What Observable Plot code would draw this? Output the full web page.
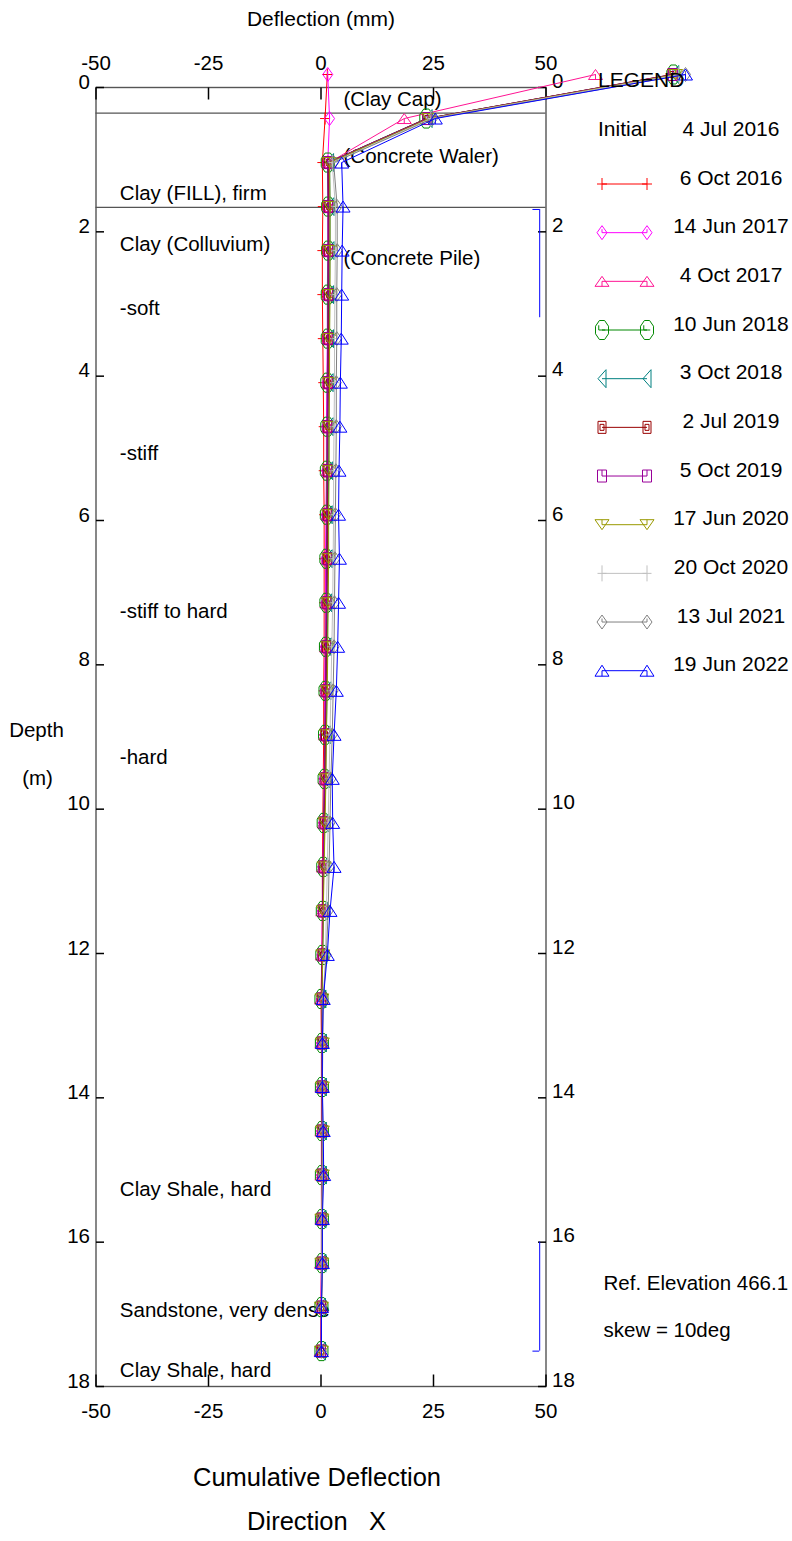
<!DOCTYPE html>
<html><head><meta charset="utf-8">
<script src="https://cdn.jsdelivr.net/npm/d3@7"></script>
<script src="https://cdn.jsdelivr.net/npm/@observablehq/plot@0.6"></script>
<style>
html,body{margin:0;padding:0;background:#fff;}
#chart{position:relative;width:792px;height:1541px;}
svg{display:block;overflow:visible}
</style>
</head><body><div id="chart"></div>
<script>
// ---------- data ----------
const depths = [-0.18, 0.43, 1.04, 1.65, 2.26, 2.87, 3.48, 4.09, 4.70, 5.31,
  5.92, 6.53, 7.14, 7.75, 8.36, 8.97, 9.58, 10.19, 10.80, 11.41,
  12.02, 12.63, 13.24, 13.85, 14.46, 15.07, 15.68, 16.29, 16.90, 17.51];

const seriesNames = ["6 Oct 2016", "14 Jun 2017", "4 Oct 2017", "10 Jun 2018", "3 Oct 2018",
  "2 Jul 2019", "5 Oct 2019", "17 Jun 2020", "20 Oct 2020", "13 Jul 2021", "19 Jun 2022"];
const seriesColors = ["#ff0000", "#ff00ff", "#ff1493", "#008800", "#008080",
  "#990000", "#990099", "#999900", "#c0c0c0", "#808080", "#0000ff"];
const initialName = "4 Jul 2016";

const d6Oct2016 = [1.4, 0.9, 0.3, 0.4, 0.3, 0.3, 0.4, 0.5, 0.6, 0.6, 0.7, 0.7, 0.7, 0.7, 0.6, 0.6, 0.5, 0.4, 0.3, 0.3, 0.2, 0.0, 0.1, 0.1, 0.1, 0.1, 0.1, 0.1, 0.0, 0.0];
const d14Jun2017 = [1.5, 1.9, 1.5, 1.5, 1.5, 1.4, 1.4, 1.3, 1.2, 1.2, 1.1, 1.0, 1.0, 0.9, 0.8, 0.8, 0.7, 0.6, 0.4, 0.3, 0.2, 0.1, 0.1, 0.1, 0.1, 0.1, 0.1, 0.1, 0.0, 0.0];
const d4Oct2017 = [61.0, 18.5, 1.8, 1.8, 1.8, 1.7, 1.7, 1.6, 1.6, 1.5, 1.5, 1.4, 1.3, 1.2, 1.1, 1.0, 0.9, 0.7, 0.5, 0.4, 0.3, 0.1, 0.2, 0.2, 0.2, 0.2, 0.2, 0.1, 0.1, 0.0];
const d10Jun2018 = [78.3, 23.4, 1.5, 1.6, 1.6, 1.5, 1.5, 1.4, 1.4, 1.3, 1.3, 1.2, 1.2, 1.1, 1.0, 0.9, 0.8, 0.6, 0.5, 0.4, 0.3, 0.1, 0.2, 0.2, 0.2, 0.2, 0.2, 0.2, 0.1, 0.1];
const d3Oct2018 = [78.6, 23.8, 1.9, 2.0, 2.0, 1.9, 1.9, 1.8, 1.8, 1.7, 1.6, 1.6, 1.5, 1.4, 1.3, 1.2, 1.0, 0.8, 0.6, 0.5, 0.4, 0.2, 0.3, 0.3, 0.3, 0.3, 0.2, 0.2, 0.1, 0.1];
const d2Jul2019 = [78.0, 23.5, 1.6, 1.7, 1.7, 1.7, 1.6, 1.6, 1.5, 1.5, 1.4, 1.4, 1.3, 1.2, 1.1, 1.0, 0.9, 0.7, 0.5, 0.4, 0.3, 0.1, 0.2, 0.2, 0.2, 0.2, 0.2, 0.2, 0.1, 0.1];
const d5Oct2019 = [78.2, 23.6, 1.5, 1.6, 1.6, 1.6, 1.5, 1.5, 1.4, 1.4, 1.3, 1.3, 1.2, 1.1, 1.0, 0.9, 0.8, 0.6, 0.5, 0.4, 0.3, 0.1, 0.2, 0.2, 0.2, 0.2, 0.1, 0.1, 0.1, 0.0];
const d17Jun2020 = [78.8, 24.0, 1.9, 2.0, 2.0, 2.0, 1.9, 1.9, 1.8, 1.8, 1.7, 1.7, 1.6, 1.5, 1.4, 1.2, 1.1, 0.9, 0.7, 0.5, 0.4, 0.2, 0.3, 0.3, 0.3, 0.3, 0.2, 0.2, 0.1, 0.1];
const d20Oct2020 = [79.5, 24.4, 2.5, 3.2, 3.2, 3.1, 3.0, 3.0, 2.9, 2.8, 2.8, 2.7, 2.6, 2.4, 2.2, 2.0, 1.8, 1.6, 1.4, 1.2, 1.0, 0.5, 0.3, 0.3, 0.3, 0.3, 0.2, 0.2, 0.1, 0.1];
const d13Jul2021 = [81.0, 24.8, 2.8, 3.6, 3.6, 3.5, 3.5, 3.4, 3.4, 3.3, 3.2, 3.1, 3.0, 2.9, 2.7, 2.5, 2.2, 2.0, 1.8, 1.6, 1.2, 0.5, 0.4, 0.3, 0.4, 0.4, 0.3, 0.3, 0.1, 0.1];
const d19Jun2022 = [81.0, 25.4, 4.6, 4.9, 4.7, 4.6, 4.5, 4.3, 4.2, 4.0, 3.9, 4.1, 3.9, 3.7, 3.4, 2.9, 2.5, 2.6, 2.9, 2.0, 1.4, 0.5, 0.3, 0.3, 0.5, 0.6, 0.3, 0.3, 0.1, 0.1];
const seriesValues = [d6Oct2016, d14Jun2017, d4Oct2017, d10Jun2018, d3Oct2018, d2Jul2019,
  d5Oct2019, d17Jun2020, d20Oct2020, d13Jul2021, d19Jun2022];

const xTickValues = [-50, -25, 0, 25, 50];
const yTickValues = [0, 2, 4, 6, 8, 10, 12, 14, 16, 18];

const layerBoundaries = [0.355, 1.66];
const annotationTexts = ["(Clay Cap)", "(Concrete Waler)", "(Concrete Pile)", "Clay (FILL), firm",
  "Clay (Colluvium)", "-soft", "-stiff", "-stiff to hard", "-hard", "Clay Shale, hard",
  "Sandstone, very dense", "Clay Shale, hard"];
const annotationDepths = [0.17, 0.96, 2.37, 1.47, 2.17, 3.06, 5.07, 7.26, 9.28, 15.27, 16.95, 17.78];
const annotationDefl = [5, 5, 5, -44.7, -44.7, -44.7, -44.7, -44.7, -44.7, -44.7, -44.7, -44.7];

const bracketTop = [1.69, 16.0];
const bracketBottom = [3.19, 17.51];
const bracketTickDepths = [1.69, 17.51];
const bracketDefl = 48.6;
const bracketTickDefl = 47.1;

// ---------- symbols ----------
const sym = fn => ({draw(c) { fn(c); }});
const plusSym = (w, h) => sym(c => { c.moveTo(-w/2, 0); c.lineTo(w/2, 0); c.moveTo(0, -h/2); c.lineTo(0, h/2); });
const diamondSym = (w, h) => sym(c => { c.moveTo(0, -h/2); c.lineTo(w/2, 0); c.lineTo(0, h/2); c.lineTo(-w/2, 0); c.closePath(); c.moveTo(0, 0); c.lineTo(0, -h/4); });
const triUpSym = (w, h) => sym(c => { c.moveTo(0, -h/2); c.lineTo(w/2, h/2); c.lineTo(-w/2, h/2); c.closePath(); c.moveTo(0, 0); c.lineTo(0, h/2); });
const triDownSym = (w, h) => sym(c => { c.moveTo(-w/2, -h/2); c.lineTo(w/2, -h/2); c.lineTo(0, h/2); c.closePath(); c.moveTo(0, -h/2); c.lineTo(0, 0); });
const triLeftSym = (w, h) => sym(c => { c.moveTo(-w/2, 0); c.lineTo(w/2, -h/2); c.lineTo(w/2, h/2); c.closePath(); });
const octSym = (w, h) => sym(c => {
  const cx = w * 0.3, cy = h * 0.3;
  c.moveTo(-w/2 + cx, -h/2); c.lineTo(w/2 - cx, -h/2); c.lineTo(w/2, -h/2 + cy); c.lineTo(w/2, h/2 - cy);
  c.lineTo(w/2 - cx, h/2); c.lineTo(-w/2 + cx, h/2); c.lineTo(-w/2, h/2 - cy); c.lineTo(-w/2, -h/2 + cy); c.closePath();
  c.moveTo(-w/4, -h/4); c.lineTo(-w/4, 0); c.lineTo(w/4, 0);
});
const squareSym = (w, h, inner) => sym(c => {
  c.rect(-w/2, -h/2, w, h);
  if (inner) c.rect(-w/4, -h/4, w/2, h/2); else { c.moveTo(0, -h/2); c.lineTo(0, 0); }
});
const seriesSymbols = [plusSym(10, 12), diamondSym(10, 14), triUpSym(14, 10), octSym(13, 19), triLeftSym(8, 18),
  squareSym(8, 12, true), squareSym(9, 12, false), triDownSym(14, 10), plusSym(9, 16), diamondSym(10, 14), triUpSym(14, 11)];

const tickDown = sym(c => { c.moveTo(0, 0); c.lineTo(0, 12); });
const tickUp = sym(c => { c.moveTo(0, 0); c.lineTo(0, -12); });
const tickRight = sym(c => { c.moveTo(0, 0); c.lineTo(8, 0); });
const tickLeft = sym(c => { c.moveTo(0, 0); c.lineTo(-8, 0); });

// ---------- marks ----------
const FONT = "Liberation Sans, Arial, Helvetica, sans-serif";
const FS = 20.5;
const annotations = annotationTexts.map((t, i) => ({text: t, depth: annotationDepths[i], defl: annotationDefl[i]}));
const brackets = bracketTop.map((t, i) => ({top: t, bottom: bracketBottom[i]}));
const T = {lineAnchor: "middle", fill: "#000", fontSize: FS};

const seriesMarks = [];
seriesNames.forEach((name, k) => {
  const rows = depths.map((d, i) => ({depth: d, defl: seriesValues[k][i]}));
  seriesMarks.push(Plot.line(rows, {x: "defl", y: "depth", stroke: seriesColors[k], strokeWidth: 1}));
  seriesMarks.push(Plot.dot(rows, {x: "defl", y: "depth", symbol: seriesSymbols[k], stroke: seriesColors[k], fill: "none", strokeWidth: 1}));
});

const plot = Plot.plot({
  width: 792, height: 1541,
  marginLeft: 95.5, marginRight: 246.5, marginTop: 87, marginBottom: 155,
  style: {fontFamily: FONT, background: "#fff", overflow: "visible"},
  x: {domain: [-50, 50], axis: null},
  y: {domain: [0, 18], reverse: true, axis: null},
  marks: [
    Plot.ruleY(layerBoundaries, {stroke: "#555", strokeWidth: 1.2}),
    Plot.frame({stroke: "#555", strokeWidth: 1.4}),
    Plot.dot(xTickValues, {x: d => d, frameAnchor: "top", symbol: tickDown, stroke: "#000", fill: "none"}),
    Plot.dot(xTickValues, {x: d => d, frameAnchor: "bottom", symbol: tickUp, stroke: "#000", fill: "none"}),
    Plot.dot(yTickValues, {y: d => d, frameAnchor: "left", symbol: tickRight, stroke: "#000", fill: "none"}),
    Plot.dot(yTickValues, {y: d => d, frameAnchor: "right", symbol: tickLeft, stroke: "#000", fill: "none"}),
    Plot.text(xTickValues, {...T, x: d => d, text: d => String(d), frameAnchor: "top", textAnchor: "middle", dy: -24}),
    Plot.text(xTickValues, {...T, x: d => d, text: d => String(d), frameAnchor: "bottom", textAnchor: "middle", dy: 25}),
    Plot.text(yTickValues, {...T, y: d => d, text: d => String(d), frameAnchor: "left", textAnchor: "end", dx: -6, dy: -5.5}),
    Plot.text(yTickValues, {...T, y: d => d, text: d => String(d), frameAnchor: "right", textAnchor: "start", dx: 6, dy: -6.5}),
    Plot.text(["Deflection (mm)"], {...T, frameAnchor: "top", textAnchor: "middle", dy: -68, fontSize: 21}),
    Plot.text(["Depth"], {...T, frameAnchor: "left", textAnchor: "middle", dx: -59.5, dy: -6.5}),
    Plot.text(["(m)"], {...T, frameAnchor: "left", textAnchor: "middle", dx: -58.5, dy: 41.5}),
    Plot.text(["Cumulative Deflection"], {...T, frameAnchor: "bottom", textAnchor: "middle", dx: -4, dy: 91.5, fontSize: 25.5}),
    Plot.text(["Direction\u00a0\u00a0\u00a0X"], {...T, frameAnchor: "bottom", textAnchor: "middle", dx: -4.5, dy: 135, fontSize: 25.5}),
    Plot.text(["Ref. Elevation 466.1"], {...T, frameAnchor: "bottom-right", textAnchor: "start", dx: 57.5, dy: -103}),
    Plot.text(["skew = 10deg"], {...T, frameAnchor: "bottom-right", textAnchor: "start", dx: 57.5, dy: -56}),
    Plot.text(annotations, {...T, x: "defl", y: "depth", text: "text", textAnchor: "start"}),
    Plot.ruleX(brackets, {x: () => bracketDefl, y1: "top", y2: "bottom", stroke: "#0000ff", strokeWidth: 1}),
    Plot.ruleY(bracketTickDepths, {y: d => d, x1: () => bracketTickDefl, x2: () => bracketDefl, stroke: "#0000ff", strokeWidth: 1}),
    ...seriesMarks
  ]
});

// ---------- legend ----------
const svg = d3.select(plot);
const lg = svg.append("g").attr("font-family", FONT).attr("font-size", 21).attr("fill", "#000").attr("text-anchor", "start");
lg.append("text").attr("x", 598).attr("y", 80).attr("dy", "0.35em").attr("text-anchor", "start").text("LEGEND");
lg.append("text").attr("x", 598).attr("y", 129).attr("dy", "0.35em").attr("text-anchor", "start").text("Initial");
lg.append("text").attr("x", 731).attr("y", 129).attr("dy", "0.35em").attr("text-anchor", "middle").text(initialName);
seriesNames.forEach((name, k) => {
  const yl = 184 + 48.67 * k;
  const g = lg.append("g");
  g.append("line").attr("x1", 602).attr("x2", 647).attr("y1", yl).attr("y2", yl)
    .attr("stroke", seriesColors[k]).attr("stroke-width", 1);
  [602, 647].forEach(xs => {
    g.append("path").attr("d", d3.symbol(seriesSymbols[k], 1)()).attr("transform", `translate(${xs},${yl})`)
      .attr("fill", "none").attr("stroke", seriesColors[k]).attr("stroke-width", 1);
  });
  g.append("text").attr("x", 731).attr("y", yl - 6.7).attr("dy", "0.35em").attr("text-anchor", "middle").text(name);
});

document.getElementById("chart").appendChild(plot);
</script>
</body></html>
